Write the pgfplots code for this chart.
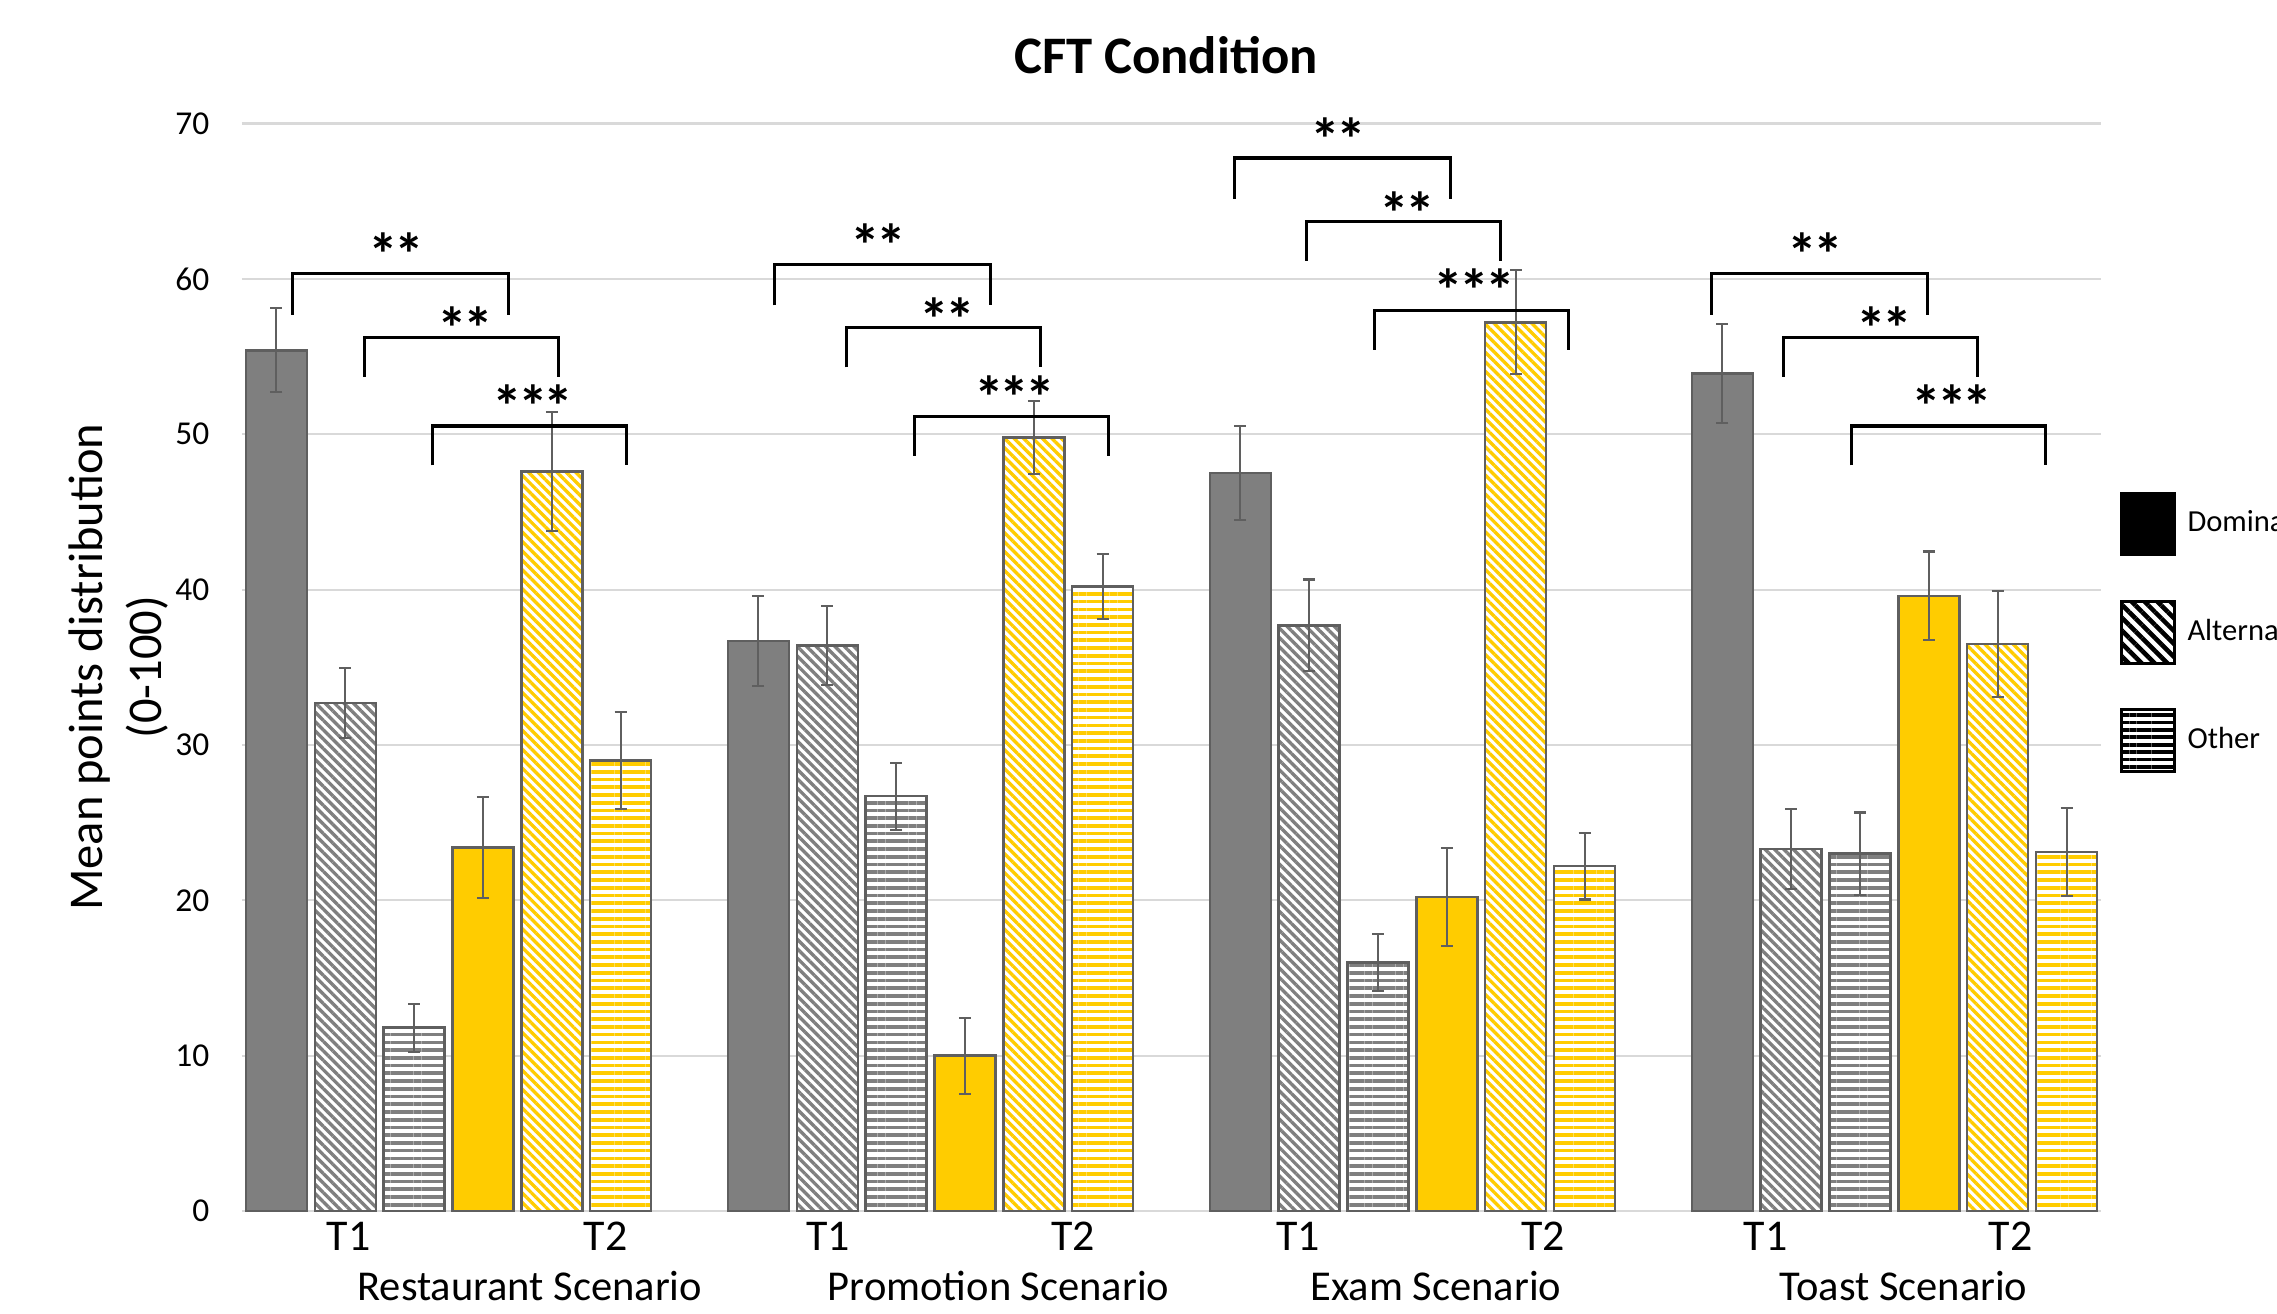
\documentclass[border=0pt]{standalone}
\usepackage{fontspec}
\setmainfont{Carlito}
\usepackage{pgfplots}
\usepackage{pgfplotstable}
\pgfplotsset{compat=1.18}
\usetikzlibrary{patterns.meta}

\definecolor{dgray}{HTML}{7F7F7F}
\definecolor{edge}{HTML}{5F5F5F}
\definecolor{gold}{HTML}{FFCC00}
\definecolor{gridc}{HTML}{D9D9D9}

% x = bar position, y = mean, e = error
\pgfplotstableread{
x y e
0 55.4 2.70
7 36.7 2.90
14 47.5 3.05
21 53.9 3.20
}\domA
\pgfplotstableread{
x y e
1 32.7 2.25
8 36.4 2.55
15 37.7 2.95
22 23.3 2.60
}\altA
\pgfplotstableread{
x y e
2 11.8 1.55
9 26.7 2.15
16 16.0 1.85
23 23.0 2.65
}\othA
\pgfplotstableread{
x y e
3 23.4 3.25
10 10.0 2.45
17 20.2 3.15
24 39.6 2.85
}\domB
\pgfplotstableread{
x y e
4 47.6 3.85
11 49.8 2.35
18 57.2 3.35
25 36.5 3.40
}\altB
\pgfplotstableread{
x y e
5 29.0 3.10
12 40.2 2.10
19 22.2 2.15
26 23.1 2.85
}\othB

\pgfplotsset{
  sqlegend/.style={legend image code/.code={\draw[##1] (0mm,-3.1mm) rectangle (5.3mm,3.1mm);}},
  barbase/.style={bar shift=0pt, draw=edge, line width=0.7pt, forget plot,
    error bars/y dir=both, error bars/y explicit,
    error bars/error bar style={edge, line width=0.6pt},
    error bars/error mark options={rotate=90, edge, line width=0.6pt, mark size=0.6mm}},
  diag/.style={preaction={fill=white}, pattern={Lines[angle=-45,distance=1.9pt,line width=0.95pt]}, pattern color=#1},
  horiz/.style={preaction={fill=white}, pattern={Lines[angle=0,distance=2.2pt,line width=1.05pt]}, pattern color=#1},
}

\newcommand{\twost}{*\kern-0.4mm*}
\newcommand{\threest}{*\kern-0.4mm*\kern-0.4mm*}
\newcommand{\brk}[4]{\draw[black, line width=0.9pt] (axis cs:#1,#4) -- (axis cs:#1,#3) -- (axis cs:#2,#3) -- (axis cs:#2,#4);}
\newcommand{\stars}[3]{\node[font=\bfseries\fontsize{17}{19}\selectfont, anchor=base, yshift=-3.13mm, inner sep=0pt] at (axis cs:#1,#2) {#3};}

\begin{document}
\begin{tikzpicture}
\begin{axis}[
  name=ax,
  scale only axis, width=185.9mm, height=108.75mm,
  xmin=-0.5, xmax=26.5, ymin=0, ymax=70,
  enlargelimits=false,
  ytick={0,10,...,70},
  ymajorgrids, major grid style={gridc, line width=0.6pt},
  axis line style={draw=none},
  major tick length=0pt, tick style={draw=none},
  xtick={1.047,4.78,8.01,11.57,14.84,18.40,21.63,25.19},
  xticklabels={T1,T2,T1,T2,T1,T2,T1,T2},
  xticklabel style={font=\fontsize{12.5}{15}\selectfont, anchor=base, yshift=-3.9mm, inner sep=0pt},
  yticklabel style={font=\fontsize{9.5}{11}\selectfont, anchor=east, inner sep=0pt, xshift=-3.2mm},
  /pgf/number format/assume math mode=true,
  ybar, bar width=0.886,
  clip=false,
  legend style={draw=none, fill=none, inner sep=0pt, at={(1.00968,0.6621)}, anchor=north west,
    row sep=4.35mm, column sep=0.5mm, font=\fontsize{8.7}{10}\selectfont},
  legend cell align=left,
]
\addplot[barbase, fill=dgray] table[x=x, y=y, y error=e] {\domA};
\addplot[barbase, diag=dgray] table[x=x, y=y, y error=e] {\altA};
\addplot[barbase, horiz=dgray] table[x=x, y=y, y error=e] {\othA};
\addplot[barbase, fill=gold] table[x=x, y=y, y error=e] {\domB};
\addplot[barbase, diag=gold] table[x=x, y=y, y error=e] {\altB};
\addplot[barbase, horiz=gold] table[x=x, y=y, y error=e] {\othB};

\addlegendimage{sqlegend, fill=black, draw=black, line width=0.8pt}
\addlegendentry{Dominant}
\addlegendimage{sqlegend, preaction={fill=white}, pattern={Lines[angle=-45,distance=2.6pt,line width=1.3pt]}, pattern color=black, draw=black, line width=0.8pt}
\addlegendentry{Alternative}
\addlegendimage{sqlegend, preaction={fill=white}, pattern={Lines[angle=0,distance=2.1pt,line width=1.05pt]}, pattern color=black, draw=black, line width=0.8pt}
\addlegendentry{Other}

% significance brackets
% group 1
\brk{0.236}{3.374}{60.33}{57.69} \stars{1.746}{62.2}{\twost}
\brk{1.282}{4.100}{56.25}{53.70} \stars{2.742}{57.45}{\twost}
\brk{2.264}{5.080}{50.53}{48.00} \stars{3.724}{52.45}{\threest}
% group 2
\brk{7.236}{10.374}{60.93}{58.29} \stars{8.746}{62.8}{\twost}
\brk{8.282}{11.100}{56.85}{54.30} \stars{9.742}{58.05}{\twost}
\brk{9.264}{12.080}{51.13}{48.60} \stars{10.724}{53.05}{\threest}
% group 3
\brk{13.912}{17.055}{67.78}{65.14} \stars{15.42}{69.65}{\twost}
\brk{14.960}{17.780}{63.70}{61.15} \stars{16.42}{64.9}{\twost}
\brk{15.945}{18.765}{57.98}{55.45} \stars{17.40}{59.9}{\threest}
% group 4
\brk{20.846}{23.984}{60.33}{57.69} \stars{22.356}{62.2}{\twost}
\brk{21.892}{24.710}{56.25}{53.70} \stars{23.352}{57.45}{\twost}
\brk{22.874}{25.690}{50.53}{48.00} \stars{24.334}{52.45}{\threest}

% title and labels
\node[font=\bfseries\fontsize{15}{18}\selectfont, anchor=base] at (axis cs:12.92,73.25) {CFT Condition};
\node[font=\fontsize{12.1}{14}\selectfont, anchor=base] at (axis cs:3.68,-5.79) {Restaurant Scenario};
\node[font=\fontsize{12.1}{14}\selectfont, anchor=base] at (axis cs:10.49,-5.79) {Promotion Scenario};
\node[font=\fontsize{12.1}{14}\selectfont, anchor=base] at (axis cs:16.84,-5.79) {Exam Scenario};
\node[font=\fontsize{12.1}{14}\selectfont, anchor=base] at (axis cs:23.63,-5.79) {Toast Scenario};
\node[font=\fontsize{13.8}{17}\selectfont, anchor=base, rotate=90] at (axis cs:-2.519,35) {Mean points distribution};
\node[font=\fontsize{13.8}{17}\selectfont, anchor=base, rotate=90] at (axis cs:-1.676,35) {(0-100)};
\end{axis}
\pgfresetboundingbox
\path[use as bounding box] ([shift={(-24.2mm,-10.2mm)}]ax.south west) rectangle ([shift={(203.5mm,121.1mm)}]ax.south west);
\end{tikzpicture}
\end{document}
